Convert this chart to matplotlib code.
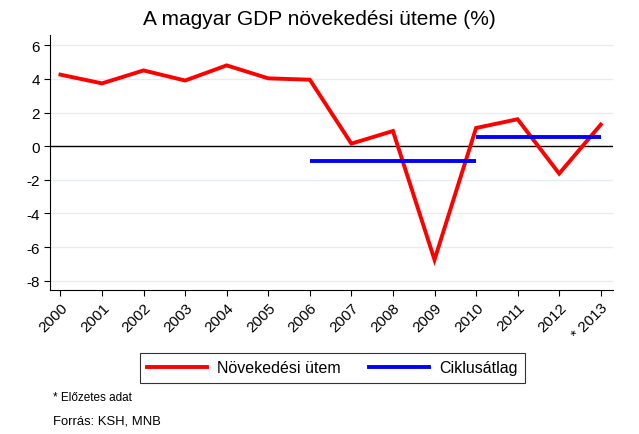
import matplotlib
matplotlib.use("Agg")
import matplotlib.pyplot as plt
from matplotlib.lines import Line2D

plt.rcParams['font.family'] = ['Liberation Sans', 'DejaVu Sans']

years = list(range(2000, 2014))
tick_labels = [str(y) for y in years[:-1]] + ['* 2013']
growth = [4.25, 3.73, 4.5, 3.9, 4.8, 4.03, 3.95, 0.15, 0.9, -6.75, 1.08, 1.6, -1.63, 1.28]
cycle1_years = [2006, 2010]
cycle1_vals = [-0.88, -0.88]
cycle2_years = [2010, 2013]
cycle2_vals = [0.52, 0.52]
yticks = [-8, -6, -4, -2, 0, 2, 4, 6]

fig = plt.figure(figsize=(6.39, 4.35), dpi=100)
ax = fig.add_axes([0.079, 0.331, 0.88, 0.586])

for v in yticks:
    if v != 0:
        ax.axhline(v, color='#e4edf0', lw=1.0, zorder=0)
ax.axhline(0, color='black', lw=1.0, zorder=1)

ax.plot(years, growth, color='#ff0000', lw=2.8, zorder=3, solid_joinstyle='miter')
ax.plot(cycle1_years, cycle1_vals, color='#0000ff', lw=2.8, zorder=4, solid_capstyle='butt')
ax.plot(cycle2_years, cycle2_vals, color='#0000ff', lw=2.8, zorder=4, solid_capstyle='butt')

ax.set_xlim(1999.76, 2013.29)
ax.set_ylim(-8.55, 6.6)
ax.set_yticks(yticks)
ax.set_yticklabels([str(v) for v in yticks], fontsize=11)
ax.set_xticks(years)
ax.set_xticklabels(tick_labels, rotation=45, ha='right', rotation_mode='anchor', fontsize=11)
ax.tick_params(axis='both', direction='out', length=4, width=0.8, colors='black')
ax.spines['top'].set_visible(False)
ax.spines['right'].set_visible(False)
ax.spines['left'].set_linewidth(0.8)
ax.spines['bottom'].set_linewidth(0.8)

fig.text(0.5, 0.955, 'A magyar GDP növekedési üteme (%)', ha='center', va='center', fontsize=15)

handles = [Line2D([0], [0], color='#ff0000', lw=2.8),
           Line2D([0], [0], color='#0000ff', lw=2.8)]
leg = fig.legend(handles, ['Növekedési ütem', 'Ciklusátlag'], loc='center',
                 bbox_to_anchor=(0.520, 0.152), ncol=2, frameon=True, fancybox=False,
                 fontsize=11.5, handlelength=3.75, columnspacing=1.8, borderpad=0.45,
                 handletextpad=0.63, borderaxespad=0)
leg.get_frame().set_edgecolor('black')
leg.get_frame().set_linewidth(0.8)

fig.text(0.083, 0.085, '* Előzetes adat', fontsize=8.5, va='center')
fig.text(0.083, 0.03, 'Forrás: KSH, MNB', fontsize=9.4, va='center')

fig.savefig('out.png', dpi=100, facecolor='white')
